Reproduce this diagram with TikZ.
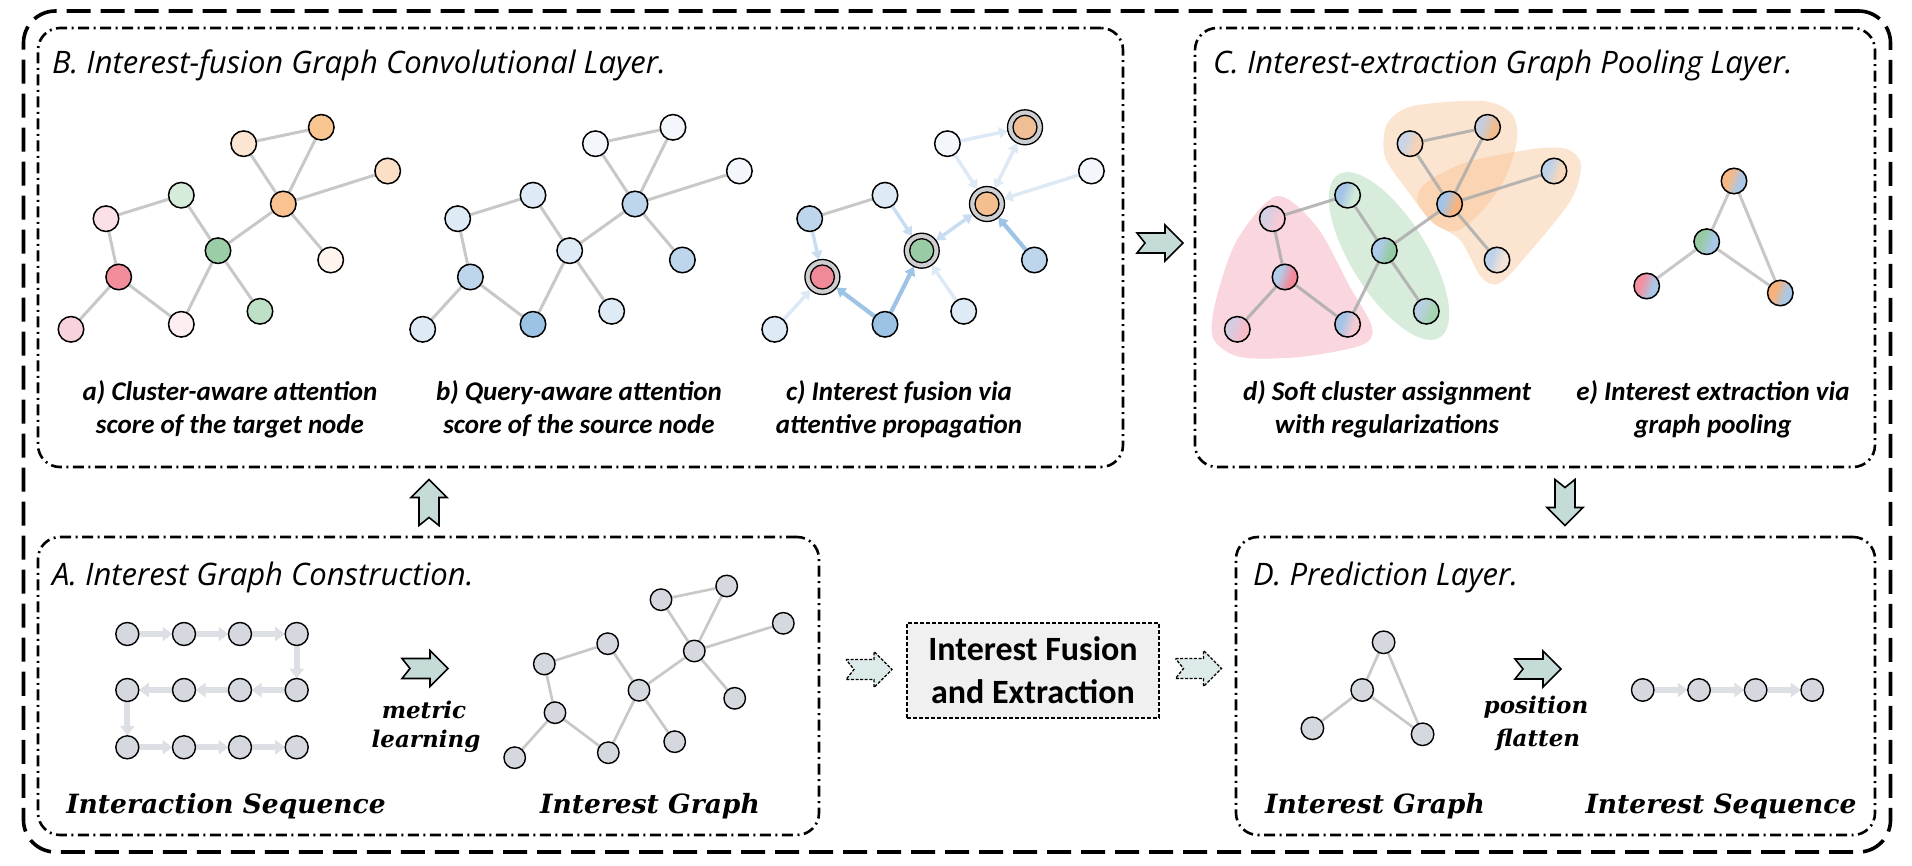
\documentclass[tikz,border=0pt]{standalone}
\usepackage{fontspec}
\setmainfont{Carlito}
\newfontfamily\titlefam{Open Sans}
\newfontfamily\lblfam{DejaVu Serif}
\usetikzlibrary{arrows.meta,calc}
\pgfdeclarelayer{blobs}
\pgfdeclarelayer{edges}
\pgfsetlayers{blobs,edges,main}

\definecolor{edgegray}{HTML}{C8C8C8}
\definecolor{nodegray}{HTML}{D5D8DF}
\definecolor{seqgray}{HTML}{DCE0E5}
\definecolor{arrowfill}{HTML}{C5DBD8}
\definecolor{arrowfilltwo}{HTML}{DCEBE9}
\definecolor{boxfill}{HTML}{F0F0F0}
\definecolor{ringgray}{HTML}{CFCFD2}
\definecolor{medblue}{HTML}{9DC3E6}
\definecolor{lightblue}{HTML}{C9DDF1}
\definecolor{vlightblue}{HTML}{DDEAF6}
\definecolor{pinkblob}{HTML}{FAD6DE}
\definecolor{greenblob}{HTML}{D8ECDB}
\definecolor{orangeblob}{HTML}{F8B77E}
\definecolor{dedge}{HTML}{ABABAB}
\definecolor{cred}{HTML}{EE8A9A}
\definecolor{cgreen}{HTML}{99CCA4}
\definecolor{corange}{HTML}{F4BE8E}
\definecolor{corangeb}{HTML}{F0BE94}
\definecolor{lc}{HTML}{FFFFFF}
\definecolor{rc}{HTML}{FFFFFF}

\pgfdeclarehorizontalshading[lc,rc]{splitsh}{100bp}{color(0bp)=(lc); color(38bp)=(lc); color(62bp)=(rc); color(100bp)=(rc)}

\newcommand\hexcol[2]{\edef\hexcoltmp{\noexpand\definecolor{#1}{HTML}{#2}}\hexcoltmp}
\newcommand\blockarr[3]{\path[#1, shift={#2}, rotate=#3] (-23,-10) -- (5,-10) -- (5,-18) -- (23,0) -- (5,18) -- (5,10) -- (-23,10) -- (-15,0) -- cycle;}

\begin{document}
\begin{tikzpicture}[x=1pt,y=-1pt,
  every node/.style={inner sep=0pt, outer sep=0pt},
  gedge/.style={draw=edgegray, line width=3pt},
  dedgest/.style={draw=dedge, line width=3pt, draw opacity=0.85},
  gnode/.style={circle, draw=black, line width=1.5pt, minimum size=25.5pt},
  splitnode/.style={gnode, shade, shading=splitsh, shading angle=-20},
  anode/.style={circle, draw=black, line width=1.4pt, minimum size=21.5pt, fill=nodegray},
  snode/.style={circle, draw=black, line width=1.4pt, minimum size=23pt, fill=nodegray},
  ringnode/.style={circle, draw=black, line width=1.3pt, minimum size=35pt, fill=ringgray},
  innernode/.style={circle, draw=black, line width=1.3pt, minimum size=24pt},
  seqarrow/.style={draw=seqgray, line width=6pt, -{Triangle[width=14pt,length=10pt]}},
  catt/.style={line width=3.5pt, -{Triangle[width=11pt,length=9pt]}},
  cattboth/.style={line width=3.5pt, {Triangle[width=11pt,length=9pt]}-{Triangle[width=11pt,length=9pt]}},
  panel/.style={draw=black, line width=2.6pt, rounded corners=22pt, dash pattern=on 11pt off 4.5pt on 2pt off 4.5pt},
  outerframe/.style={draw=black, line width=3.6pt, rounded corners=32pt, dash pattern=on 24pt off 10pt},
  titlefont/.style={font=\titlefam\fontsize{31}{36}\selectfont\itshape, anchor=base west},
  capfont/.style={font=\fontsize{27}{33}\selectfont\bfseries\itshape, align=center},
  mathlabel/.style={font=\lblfam\fontsize{26.5}{32}\selectfont\bfseries\itshape, anchor=base},
  smalllabel/.style={font=\lblfam\fontsize{23}{28}\selectfont\bfseries\itshape, anchor=base},
  barrow/.style={draw=black, line width=1.6pt, fill=arrowfill, line join=miter},
  darrow/.style={draw=black, line width=1.3pt, fill=arrowfilltwo, dash pattern=on 3pt off 1.6pt, line join=miter}
]
\useasboundingbox (0,0) rectangle (1912,866);

% frames
\node[outerframe, minimum width=1867pt, minimum height=841pt] (outer) at (957,431.5) {};
\node[panel, minimum width=1085pt, minimum height=439pt] (pB) at (580.5,247.5) {};
\node[panel, minimum width=680pt, minimum height=439pt] (pC) at (1535,247.5) {};
\node[panel, minimum width=781pt, minimum height=298pt] (pA) at (428.5,686) {};
\node[panel, minimum width=639pt, minimum height=298pt] (pD) at (1555.5,686) {};

% titles
\node[titlefont] (tB) at (52,74) {B. Interest-fusion Graph Convolutional Layer.};
\node[titlefont] (tC) at (1213,74) {C. Interest-extraction Graph Pooling Layer.};
\node[titlefont] (tA) at (52,585) {A. Interest Graph Construction.};
\node[titlefont] (tD) at (1253,585) {D. Prediction Layer.};

% ---------- graph a ----------
\foreach \i/\x/\y/\c in {1/71/329.3/F9D3DC, 2/118.7/277/F28E9C, 3/106/218.7/FBE1E7, 4/181.3/195.2/D6EBDA,
  5/218/250.7/9BCDA6, 6/181.3/324.3/FDEEF1, 7/260/311.3/BEE0C6, 8/283.3/204/F9C290,
  9/243.7/143.7/FDE6D1, 10/321.3/127.3/F9C590, 11/387.7/171/FCE0C6, 12/330.7/260/FFF5EE}
  {\hexcol{tmpc}{\c}\node[gnode, fill=tmpc] (a\i) at (\x,\y) {};}
% ---------- graph b ----------
\begin{scope}[xshift=351.7pt]
\foreach \i/\x/\y/\c in {1/71/329.3/DEEAF5, 2/118.7/277/BED6EC, 3/106/218.7/DEEAF5, 4/181.3/195.2/DEEAF5,
  5/218/250.7/DEEAF5, 6/181.3/324.3/9DC3E4, 7/260/311.3/DEEAF5, 8/283.3/204/BED6EC,
  9/243.7/143.7/F3F7FB, 10/321.3/127.3/F3F7FB, 11/387.7/171/F3F7FB, 12/330.7/260/BED6EC}
  {\hexcol{tmpc}{\c}\node[gnode, fill=tmpc] (b\i) at (\x,\y) {};}
\end{scope}
\begin{pgfonlayer}{edges}
\foreach \u/\v in {1/2,2/3,3/4,4/5,2/6,6/5,5/7,5/8,8/9,9/10,10/8,8/11,8/12}
  {\draw[gedge] (a\u) -- (a\v); \draw[gedge] (b\u) -- (b\v);}
\end{pgfonlayer}

% ---------- graph c ----------
\begin{scope}[xshift=703.7pt]
\foreach \i/\x/\y/\c in {1/71/329.3/DEEAF5, 3/106/218.7/BED6EC, 4/181.3/195.2/DEEAF5,
  6/181.3/324.3/9DC3E4, 7/260/311.3/DEEAF5,
  9/243.7/143.7/F3F7FB, 11/387.7/171/F3F7FB, 12/330.7/260/BED6EC}
  {\hexcol{tmpc}{\c}\node[gnode, fill=tmpc] (c\i) at (\x,\y) {};}
\node[ringnode] (c2) at (118.7,277) {};
\node[innernode, fill=cred] (c2i) at (c2) {};
\node[ringnode] (c5) at (218,250.7) {};
\node[innernode, fill=cgreen] (c5i) at (c5) {};
\node[ringnode] (c8) at (283.3,204) {};
\node[innernode, fill=corange] (c8i) at (c8) {};
\node[ringnode] (c10) at (321.3,127.3) {};
\node[innernode, fill=corangeb] (c10i) at (c10) {};
\end{scope}
\begin{pgfonlayer}{edges}
\draw[gedge] (c3) -- (c4);
\draw[catt, draw=vlightblue, fill=vlightblue] (c1) -- (c2);
\draw[catt, draw=lightblue, fill=lightblue] (c3) -- (c2);
\draw[catt, draw=medblue, fill=medblue, line width=4.2pt] (c6) -- (c2);
\draw[catt, draw=medblue, fill=medblue, line width=4.2pt] (c6) -- (c5);
\draw[catt, draw=lightblue, fill=lightblue] (c4) -- (c5);
\draw[catt, draw=vlightblue, fill=vlightblue] (c7) -- (c5);
\draw[cattboth, draw=lightblue, fill=lightblue] (c5) -- (c8);
\draw[catt, draw=vlightblue, fill=vlightblue] (c9) -- (c8);
\draw[catt, draw=vlightblue, fill=vlightblue] (c9) -- (c10);
\draw[cattboth, draw=vlightblue, fill=vlightblue] (c8) -- (c10);
\draw[catt, draw=vlightblue, fill=vlightblue] (c11) -- (c8);
\draw[catt, draw=medblue, fill=medblue, line width=4.2pt] (c12) -- (c8);
\end{pgfonlayer}

% ---------- graph d ----------
\begin{pgfonlayer}{blobs}
\fill[pinkblob] plot[smooth cycle] coordinates {(1277,196) (1317,227) (1350,287) (1372,327) (1362,345) (1300,357) (1240,357) (1213,338) (1216,300) (1237,240)};
\fill[greenblob, rotate around={-58:(1389,256)}] (1389,256) ellipse [x radius=96pt, y radius=38pt];
\fill[orangeblob, fill opacity=0.36] plot[smooth cycle] coordinates {(1385,157) (1387,124) (1413,106) (1483,101) (1512,114) (1517,140) (1505,178) (1483,210) (1457,231) (1433,223) (1407,190)};
\fill[orangeblob, fill opacity=0.36] plot[smooth cycle] coordinates {(1417,200) (1427,182) (1467,162) (1533,149) (1567,149) (1581,165) (1571,200) (1533,248) (1500,283) (1481,277) (1460,240) (1432,222)};
\end{pgfonlayer}
\begin{scope}[xshift=1166.3pt]
\foreach \i/\x/\y/\l/\r in {1/71/329.3/D6CCE0/F7BCC8, 2/118.7/277/B3CCE8/F28A9A, 3/106/218.7/D6CEE2/F7CAD4,
  4/181.3/195.2/A3C4E6/D3EAD7, 5/218/250.7/AECBE9/95CBA0, 6/181.3/324.3/A3C4E6/F7CAD3,
  7/260/311.3/B8D0E2/A6D4B1, 8/283.3/204/A3C4E6/F9B47D, 9/243.7/143.7/C9D5E6/F8D2B6,
  10/321.3/127.3/C6CEDC/F2BB8D, 11/387.7/171/BDD2E8/F8D8BB, 12/330.7/260/BDD2E8/F6E4D8}
  {\hexcol{lc}{\l}\hexcol{rc}{\r}\node[splitnode] (d\i) at (\x,\y) {};}
\end{scope}
\begin{pgfonlayer}{edges}
\foreach \u/\v in {1/2,2/3,3/4,4/5,2/6,6/5,5/7,5/8,8/9,9/10,10/8,8/11,8/12}
  {\draw[dedgest] (d\u) -- (d\v);}
\end{pgfonlayer}

% ---------- graph e ----------
\foreach \i/\x/\y/\l/\r in {1/1734/181/F6B985/A9C8E8, 2/1706.7/241.7/96CBA1/A9C8E8,
  3/1646.7/286/F5909F/A9C8E8, 4/1780.3/293/F8B07A/A9C8E8}
  {\hexcol{lc}{\l}\hexcol{rc}{\r}\node[splitnode] (e\i) at (\x,\y) {};}
\begin{pgfonlayer}{edges}
\foreach \u/\v in {1/2,1/4,2/3,2/4} {\draw[gedge] (e\u) -- (e\v);}
\end{pgfonlayer}

% captions
\node[capfont] (capa) at (230,409) {a) Cluster-aware attention\\score of the target node};
\node[capfont] (capb) at (579,409) {b) Query-aware attention\\score of the source node};
\node[capfont] (capc) at (899,409) {c) Interest fusion via\\attentive propagation};
\node[capfont] (capd) at (1387,409) {d) Soft cluster assignment\\with regularizations};
\node[capfont] (cape) at (1713,409) {e) Interest extraction via\\graph pooling};

% ---------- panel A ----------
\foreach \r/\y in {1/634, 2/690, 3/747.3}
  \foreach \k/\x in {1/127.3, 2/184, 3/240, 4/296.7}
    {\node[snode] (s\r\k) at (\x,\y) {};}
\begin{pgfonlayer}{edges}
\foreach \u/\v in {11/12,12/13,13/14,14/24,24/23,23/22,22/21,21/31,31/32,32/33,33/34}
  {\draw[seqarrow] (s\u) -- (s\v);}
\end{pgfonlayer}

\foreach \i/\x/\y in {1/514.7/757.7, 2/555/712.7, 3/544.3/664, 4/607.7/643.7, 5/639/690.3,
  6/608.3/752.7, 7/674.7/741.7, 8/694.3/651, 9/661/599.7, 10/726.7/586, 11/783.3/623.3, 12/734.7/698.3}
  {\node[anode] (g\i) at (\x,\y) {};}
\begin{pgfonlayer}{edges}
\foreach \u/\v in {1/2,2/3,3/4,4/5,2/6,6/5,5/7,5/8,8/9,9/10,10/8,8/11,8/12}
  {\draw[gedge, line width=2.7pt] (g\u) -- (g\v);}
\end{pgfonlayer}

\blockarr{barrow}{(425,668.5)}{0}
\node[smalllabel] (lmetric) at (424,718) {metric};
\node[smalllabel] (llearn) at (426,747) {learning};
\node[mathlabel] (lseq) at (226,813) {Interaction Sequence};
\node[mathlabel] (lgraphA) at (650,813) {Interest Graph};

% ---------- middle box ----------
\node[draw=black, line width=2.4pt, dash pattern=on 4pt off 2pt, fill=boxfill,
  minimum width=252pt, minimum height=95pt, align=center,
  font=\fontsize{34}{43}\selectfont\bfseries] (fusion) at (1033,670.5) {Interest Fusion\\and Extraction};

% ---------- panel D ----------
\node[snode, minimum size=22.5pt] (h1) at (1383.6,642.3) {};
\node[snode, minimum size=22.5pt] (h2) at (1362.2,690) {};
\node[snode, minimum size=22.5pt] (h3) at (1312.4,728.3) {};
\node[snode, minimum size=22.5pt] (h4) at (1422.6,734.3) {};
\begin{pgfonlayer}{edges}
\foreach \u/\v in {1/2,1/4,2/3,2/4} {\draw[gedge, line width=2.7pt] (h\u) -- (h\v);}
\end{pgfonlayer}
\foreach \k/\x in {1/1642.7, 2/1699, 3/1755.6, 4/1812.2}
  {\node[snode, minimum size=22.5pt] (q\k) at (\x,690) {};}
\begin{pgfonlayer}{edges}
\foreach \u/\v in {1/2,2/3,3/4} {\draw[seqarrow] (q\u) -- (q\v);}
\end{pgfonlayer}
\blockarr{barrow}{(1538,669)}{0}
\node[smalllabel] (lpos) at (1536,713) {position};
\node[smalllabel] (lflat) at (1538,746) {flatten};
\node[mathlabel] (lgraphD) at (1375,813) {Interest Graph};
\node[mathlabel] (lseqD) at (1721,813) {Interest Sequence};

% ---------- block arrows between panels ----------
\blockarr{barrow}{(429,502.5)}{90}
\blockarr{barrow}{(1160,243)}{0}
\blockarr{barrow}{(1565,502.5)}{-90}
\blockarr{darrow}{(869,669.5)}{0}
\blockarr{darrow}{(1198.5,668.5)}{0}
\end{tikzpicture}
\end{document}
